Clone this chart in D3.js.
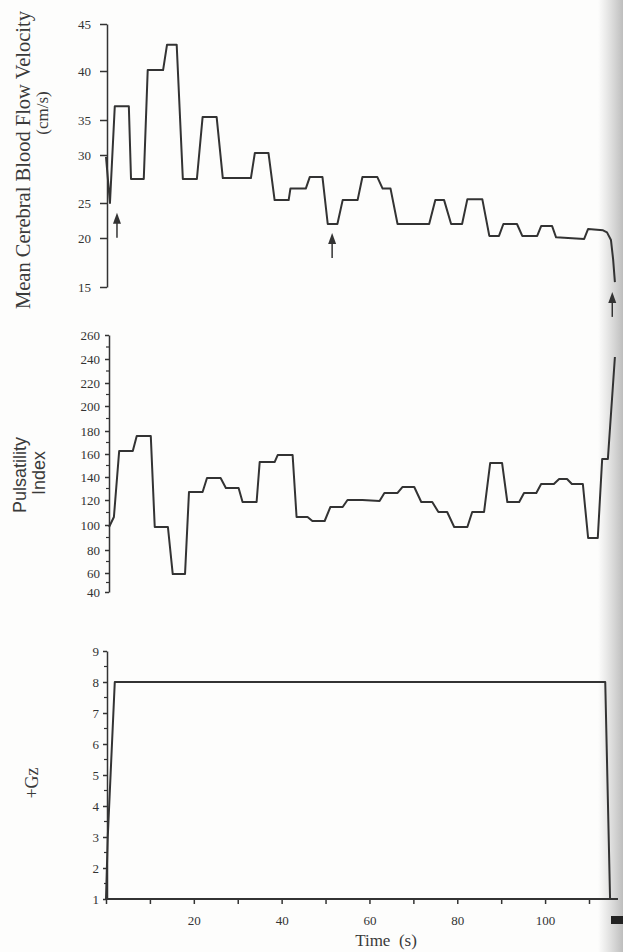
<!DOCTYPE html>
<html>
<head>
<meta charset="utf-8">
<script src="https://cdn.jsdelivr.net/npm/d3@7"></script>
<style>
  body { margin: 0; background: #fdfdfc; }
  svg { display: block; }
  .tick text { font-family: "Liberation Serif", serif; font-size: 13px; fill: #333; }
  .tick line, .domain { stroke: #333; stroke-width: 1.5px; }
</style>
</head>
<body>
<div id="chart"></div>
<script>
// values, time in seconds
const timeTicks = d3.range(0, 111, 10);
const timeLabels = [20, 40, 60, 80, 100];

const mcbfvTicks = [15, 20, 25, 30, 35, 40, 45];
const mcbfvTime = [0, 0.9, 2.0, 5.2, 5.7, 8.6, 9.5, 13.0, 13.9, 16.1, 17.5, 20.7, 22.0, 25.2, 26.6, 33.0,
  33.9, 37.0, 38.4, 41.6, 42.0, 45.5, 46.4, 49.3, 50.5, 52.7, 53.9, 57.3, 58.4, 61.8, 63.0, 64.8, 66.4,
  73.6, 75.0, 77.0, 78.6, 81.1, 82.3, 85.7, 87.3, 89.5, 90.5, 93.6, 94.8, 98.2, 99.1, 101.6, 102.5,
  108.9, 109.8, 113.2, 114.1, 115.0, 115.5, 115.9];
const mcbfvValue = [29.8, 25, 36.4, 36.4, 27.5, 27.5, 40.1, 40.1, 42.8, 42.8, 27.5, 27.5, 35.3, 35.3, 27.6, 27.6,
  30.3, 30.3, 25.3, 25.3, 26.5, 26.5, 27.7, 27.7, 22, 22, 25.3, 25.3, 27.7, 27.7, 26.5, 26.5, 22,
  22, 25.3, 25.3, 22, 22, 25.4, 25.4, 20.3, 20.3, 22, 22, 20.3, 20.3, 21.7, 21.7, 20.1,
  19.9, 21.3, 21.1, 20.8, 19.8, 17.8, 15.5];

const piTicks = d3.range(40, 261, 20);
const piTime = [0.7, 1.8, 3.0, 6.1, 7.0, 10.2, 11.1, 14.1, 15.2, 18.0, 18.9, 22.0, 23.0, 26.1, 27.3, 30.2,
  31.1, 34.3, 35.0, 38.4, 39.1, 42.5, 43.4, 45.9, 47.0, 49.8, 51.1, 53.9, 55.0, 58.4, 62.3, 63.4, 66.4,
  67.5, 70.2, 71.8, 74.3, 75.7, 77.7, 79.3, 82.3, 83.4, 86.1, 87.5, 90.2, 91.4, 94.1, 95.2, 98.0, 99.1,
  102.0, 103.2, 105.0, 106.1, 108.6, 109.8, 112.0, 113.0, 114.3, 115.9];
const piValue = [98.4, 106.4, 162.6, 162.6, 175.7, 175.7, 98.4, 98.4, 58.9, 58.9, 127.0, 127.0, 139.1, 139.1, 130.4, 130.4,
  118.4, 118.4, 153.0, 153.0, 159.1, 159.1, 106.4, 106.4, 103.2, 103.2, 114.4, 114.4, 120, 120, 119.2, 126.1, 126.1,
  131.3, 131.3, 118.4, 118.4, 110.4, 110.4, 98.4, 98.4, 110.4, 110.4, 152.2, 152.2, 118.4, 118.4, 126.1, 126.1, 133.9,
  133.9, 138.3, 138.3, 133.9, 133.9, 89.6, 89.6, 155.7, 155.7, 241.7];

const gzTicks = d3.range(1, 10);
const gzTime = [0, 0.4, 2.0, 113.7, 114.8];
const gzValue = [1, 3, 8, 8, 1];

// arrows under the velocity trace (time, value at arrow tip)
const arrowTime = [2.5, 51.5, 115.3];
const arrowTip = [23.6, 20.7, 14.5];

const width = 623, height = 952;
const svg = d3.select("#chart").append("svg")
  .attr("width", width).attr("height", height);

// scanner shadow along the right edge
const defs = svg.append("defs");
const grad = defs.append("linearGradient").attr("id", "edge").attr("x1", 0).attr("x2", 1);
grad.append("stop").attr("offset", "0%").attr("stop-color", "#999").attr("stop-opacity", 0);
grad.append("stop").attr("offset", "100%").attr("stop-color", "#8a8a8a").attr("stop-opacity", 0.55);
svg.append("rect").attr("x", 598).attr("y", 0).attr("width", 25).attr("height", height).attr("fill", "url(#edge)");

const x = d3.scaleLinear().domain([0, 110]).range([106, 589]);
const yTop = d3.scaleLinear().domain(mcbfvTicks).range([287, 238, 203, 155, 120, 71, 24]);
const yMid = d3.scaleLinear().domain(piTicks).range([592, 573, 550, 525, 500, 477, 454, 431, 406, 383, 359, 335]);
const yGz = d3.scaleLinear().domain([1, 9]).range([899, 651]);

function trace(times, values, y) {
  const line = d3.line().x(d => x(d[0])).y(d => y(d[1]));
  svg.append("path")
    .datum(d3.zip(times, values))
    .attr("d", line)
    .attr("fill", "none")
    .attr("stroke", "#333")
    .attr("stroke-width", 2)
    .attr("stroke-linejoin", "round");
}

// top panel
svg.append("g").attr("transform", "translate(107,0)")
  .call(d3.axisLeft(yTop).tickValues(mcbfvTicks).tickSize(7).tickSizeOuter(0).tickPadding(9));
trace(mcbfvTime, mcbfvValue, yTop);

arrowTime.forEach((t, i) => {
  const ax = x(t), ay = yTop(arrowTip[i]);
  svg.append("path")
    .attr("d", `M${ax},${ay}L${ax - 4},${ay + 11}L${ax + 4},${ay + 11}Z`)
    .attr("fill", "#333");
  svg.append("line")
    .attr("x1", ax).attr("x2", ax).attr("y1", ay + 8).attr("y2", ay + 25)
    .attr("stroke", "#333").attr("stroke-width", 1.5);
});

// middle panel
const midAxis = svg.append("g").attr("transform", "translate(109,0)");
midAxis.call(d3.axisLeft(yMid).tickValues(piTicks).tickSize(4).tickSizeOuter(0).tickPadding(5));
midAxis.selectAll(".minor").data(d3.range(50, 251, 20)).join("line")
  .attr("class", "minor")
  .attr("x1", -3).attr("x2", 0)
  .attr("y1", d => yMid(d)).attr("y2", d => yMid(d))
  .attr("stroke", "#333").attr("stroke-width", 1.2);
trace(piTime, piValue, yMid);

// bottom panel
const gzAxis = svg.append("g").attr("transform", "translate(107,0)");
gzAxis.call(d3.axisLeft(yGz).tickValues(gzTicks).tickSize(4).tickSizeOuter(0).tickPadding(4));
gzAxis.selectAll(".minor").data(d3.range(1.5, 9, 1)).join("line")
  .attr("class", "minor")
  .attr("x1", -3).attr("x2", 0)
  .attr("y1", d => yGz(d)).attr("y2", d => yGz(d))
  .attr("stroke", "#333").attr("stroke-width", 1.2);
trace(gzTime, gzValue, yGz);

const xAxis = svg.append("g").attr("transform", "translate(0,899)");
xAxis.call(d3.axisBottom(x).tickValues(timeTicks).tickSize(5).tickPadding(12)
  .tickFormat(d => timeLabels.includes(d) ? d : ""));
xAxis.select(".domain").remove();
xAxis.append("line")
  .attr("x1", x(0)).attr("x2", x(116.6))
  .attr("stroke", "#333").attr("stroke-width", 2);

// small dark mark at the bottom right of the scan
svg.append("rect").attr("x", 611).attr("y", 916).attr("width", 12).attr("height", 8).attr("fill", "#222");

// axis titles
const serif = '"Liberation Serif", serif';
svg.append("text")
  .attr("transform", "translate(30,160) rotate(-90)")
  .attr("text-anchor", "middle")
  .style("font-family", serif).style("font-size", "20.5px").style("fill", "#3a3a3a")
  .text("Mean Cerebral Blood Flow Velocity");
svg.append("text")
  .attr("transform", "translate(48,113) rotate(-90)")
  .attr("text-anchor", "middle")
  .style("font-family", serif).style("font-size", "17px").style("fill", "#3a3a3a")
  .text("(cm/s)");

const sans = '"Liberation Sans", sans-serif';
svg.append("text")
  .attr("transform", "translate(26,475) rotate(-90)")
  .attr("text-anchor", "middle")
  .style("font-family", sans).style("font-size", "18px").style("fill", "#3a3a3a")
  .text("Pulsatility");
svg.append("text")
  .attr("transform", "translate(45,473) rotate(-90)")
  .attr("text-anchor", "middle")
  .style("font-family", sans).style("font-size", "18px").style("fill", "#3a3a3a")
  .text("Index");

svg.append("text")
  .attr("transform", "translate(38,783) rotate(-90)")
  .attr("text-anchor", "middle")
  .style("font-family", serif).style("font-size", "18px").style("fill", "#3a3a3a")
  .text("+Gz");

svg.append("text")
  .attr("x", 386).attr("y", 946)
  .attr("text-anchor", "middle")
  .style("font-family", serif).style("font-size", "17px").style("fill", "#3a3a3a")
  .style("white-space", "pre")
  .text("Time  (s)");
</script>
</body>
</html>
